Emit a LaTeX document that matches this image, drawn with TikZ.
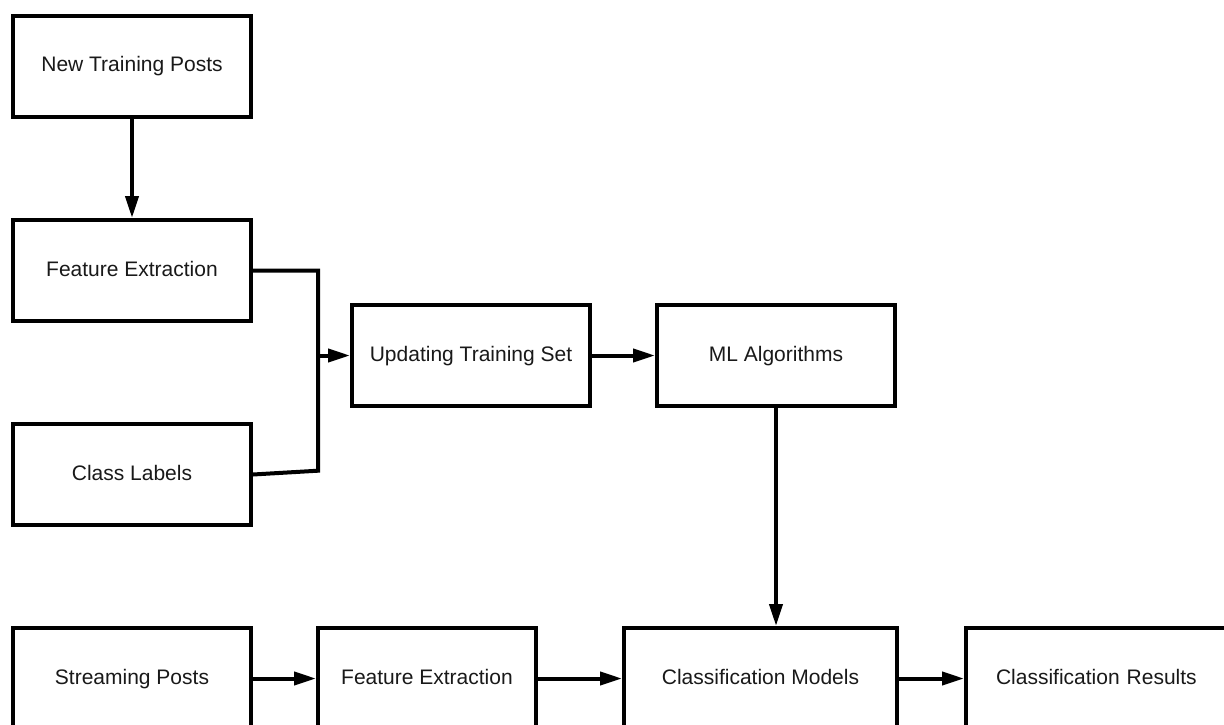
\documentclass[tikz,border=0pt]{standalone}
\usepackage{fontspec}
\setmainfont{Liberation Sans}
\usetikzlibrary{arrows.meta}
\begin{document}
\begin{tikzpicture}[x=1pt,y=-1pt,
  box/.style={draw=black, line width=4pt, fill=white, inner sep=0pt,
    text height=15pt, text depth=4pt,
    font=\fontsize{21}{25}\selectfont, text=black!90},
  conn/.style={line width=4pt, -{Triangle[length=22pt,width=13pt]}},
  plain/.style={line width=4pt}]
\useasboundingbox (0,0) rectangle (1224,725);
\clip (0,0) rectangle (1224,725);
\node[box, minimum width=238pt, minimum height=101pt] (ntp) at (132,66.5) {New Training Posts};
\node[box, minimum width=238pt, minimum height=101pt] (fe1) at (132,270.5) {Feature Extraction};
\node[box, minimum width=238pt, minimum height=101pt] (cl) at (132,474.5) {Class Labels};
\node[box, minimum width=238pt, minimum height=101pt] (uts) at (471,355.5) {Updating Training Set};
\node[box, minimum width=238pt, minimum height=101pt] (ml) at (776,355.5) {ML Algorithms};
\node[box, minimum width=238pt, minimum height=101pt] (sp) at (132,678.5) {Streaming Posts};
\node[box, minimum width=218pt, minimum height=101pt] (fe2) at (427,678.5) {Feature Extraction};
\node[box, minimum width=273pt, minimum height=101pt] (cm) at (760.5,678.5) {Classification Models};
\node[box, minimum width=274pt, minimum height=101pt, text width=258pt, align=left] (cr) at (1103,678.5) {\hspace*{22pt}Classification Results};
\coordinate (j1) at (318,270.5);
\coordinate (j2) at (318,470.7);
\coordinate (j3) at (318,355.5);
\draw[conn] (ntp.south) -- (fe1.north);
\draw[plain] (fe1.east) -- (j1) -- (j2) -- (cl.east);
\draw[conn] (j3) -- (uts.west);
\draw[conn] (uts.east) -- (ml.west);
\draw[conn] (ml.south) -- (ml.south |- cm.north);
\draw[conn] (sp.east) -- (fe2.west);
\draw[conn] (fe2.east) -- (cm.west);
\draw[conn] (cm.east) -- (cr.west);
\end{tikzpicture}
\end{document}
